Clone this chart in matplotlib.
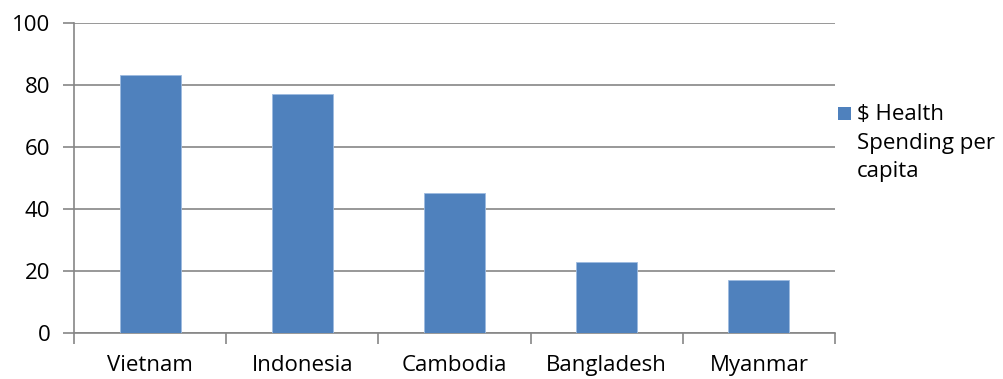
import matplotlib.pyplot as plt
from matplotlib.patches import Rectangle

countries = ["Vietnam", "Indonesia", "Cambodia", "Bangladesh", "Myanmar"]
spending = [83, 77, 45, 23, 17]
series_lines = ["$ Health", "Spending per", "capita"]

BAR_COLOR = "#4F81BD"
LINE_COLOR = "#868686"
W, H = 1004, 379

plt.rcParams["font.family"] = ["Open Sans", "DejaVu Sans"]
plt.rcParams["font.size"] = 16

fig = plt.figure(figsize=(W / 100, H / 100), dpi=100)
ax = fig.add_axes([74 / W, 1 - 333 / H, (835 - 74) / W, (333 - 22.7) / H])

x = range(len(countries))
ax.bar(x, spending, width=0.4, color=BAR_COLOR, edgecolor="#9DBBE0",
       linewidth=0.6, zorder=3)

ax.set_xlim(-0.5, len(countries) - 0.5)
ax.set_ylim(0, 100)
ax.set_yticks(range(0, 101, 20))
ax.yaxis.grid(True, color=LINE_COLOR, linewidth=1.2, zorder=0)

# ticks between categories, labels centred under bars
ax.set_xticks([i - 0.5 for i in range(len(countries) + 1)])
ax.set_xticklabels([])
ax.set_xticks(list(x), minor=True)
ax.set_xticklabels(countries, minor=True)
ax.tick_params(axis="x", which="major", length=8, color=LINE_COLOR, width=1.2)
ax.tick_params(axis="x", which="minor", length=0, pad=16)
ax.tick_params(axis="y", length=8, color=LINE_COLOR, width=1.2, pad=9)

for side in ["top", "right"]:
    ax.spines[side].set_visible(False)
for side in ["left", "bottom"]:
    ax.spines[side].set_color(LINE_COLOR)
    ax.spines[side].set_linewidth(1.2)

# legend drawn by hand: square next to first line, wrapped name
fig.patches.append(Rectangle((838 / W, 1 - 120 / H), 13 / W, 13 / H,
                             transform=fig.transFigure, facecolor=BAR_COLOR,
                             edgecolor="none"))
for i, line in enumerate(series_lines):
    fig.text(857 / W, 1 - (114 + 29 * i) / H, line, ha="left", va="center",
             fontsize=16)

plt.savefig("out.png", dpi=100)
